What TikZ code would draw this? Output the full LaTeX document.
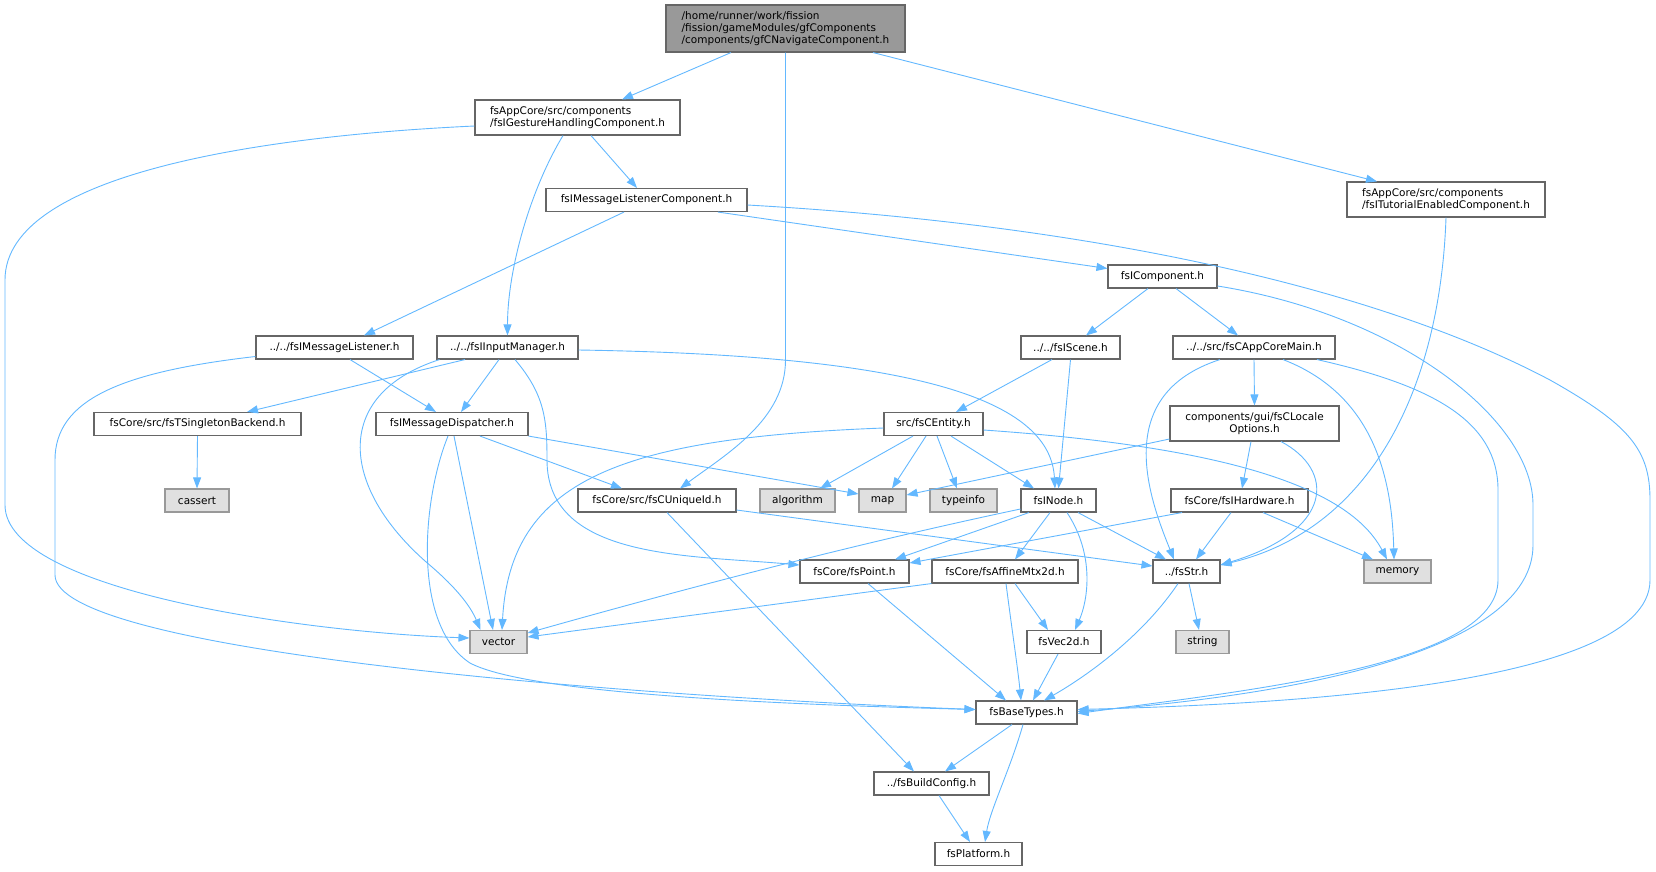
\documentclass[tikz,border=0pt]{standalone}
\usepackage{fontspec}
\setmainfont{DejaVu Sans}
\usetikzlibrary{arrows.meta}
\begin{document}
\begin{tikzpicture}[x=1pt,y=-1pt]
\definecolor{edgeblue}{HTML}{63B8FF}
\definecolor{boxgray}{HTML}{666666}
\definecolor{sysgray}{HTML}{999999}
\definecolor{sysfill}{HTML}{E0E0E0}
\tikzstyle{incbox}=[draw=boxgray,fill=white,line width=1.1pt,inner sep=0pt,minimum height=23pt,font=\fontsize{10.5}{12}\selectfont];
\tikzstyle{sysbox}=[incbox,draw=sysgray,fill=sysfill];
\tikzstyle{incarrow}=[draw=edgeblue,line width=0.9pt,-{Triangle[length=11pt,width=8pt]}];

\useasboundingbox (0,0) rectangle (1656,871);

% boxes, top to bottom
\node[incbox,fill=sysgray,minimum width=239pt,minimum height=47pt,align=left] (root) at (785.5,28.5) {/home/runner/work/fission\\/fission/gameModules/gfComponents\\/components/gfCNavigateComponent.h};
\node[incbox,minimum width=205pt,minimum height=35pt,align=left] (gesture) at (577.5,117.5) {fsAppCore/src/components\\/fsIGestureHandlingComponent.h};
\node[incbox,minimum width=198pt,minimum height=35pt,align=left] (tutorial) at (1446,199.5) {fsAppCore/src/components\\/fsITutorialEnabledComponent.h};
\node[incbox,minimum width=201pt] (msglistcomp) at (646.5,200) {fsIMessageListenerComponent.h};
\node[incbox,minimum width=109pt] (component) at (1162.5,276.5) {fsIComponent.h};

\node[incbox,minimum width=157pt] (msglistener) at (334.5,347.5) {../../fsIMessageListener.h};
\node[incbox,minimum width=141pt] (inputmgr) at (507.5,347.5) {../../fsIInputManager.h};
\node[incbox,minimum width=99pt] (scene) at (1070.5,347.5) {../../fsIScene.h};
\node[incbox,minimum width=162pt] (appcore) at (1254,347.5) {../../src/fsCAppCoreMain.h};

\node[incbox,minimum width=207pt] (singleton) at (197.5,424) {fsCore/src/fsTSingletonBackend.h};
\node[incbox,minimum width=152pt] (dispatcher) at (452,424) {fsIMessageDispatcher.h};
\node[incbox,minimum width=99pt] (entity) at (933.5,424) {src/fsCEntity.h};
\node[incbox,minimum width=169pt,minimum height=35pt,align=center] (locale) at (1254.5,423.5) {components/gui/fsCLocale\\Options.h};

\node[sysbox,minimum width=64pt] (cassert) at (197,500.5) {cassert};
\node[incbox,minimum width=158pt] (uniqueid) at (657,500.5) {fsCore/src/fsCUniqueId.h};
\node[sysbox,minimum width=75pt] (algorithm) at (797.5,500.5) {algorithm};
\node[sysbox,minimum width=47pt] (map) at (882.5,500.5) {map};
\node[sysbox,minimum width=67pt] (typeinfo) at (963.5,500.5) {typeinfo};
\node[incbox,minimum width=75pt] (inode) at (1058.5,500.5) {fsINode.h};
\node[incbox,minimum width=137pt] (hardware) at (1239.5,500.5) {fsCore/fsIHardware.h};

\node[incbox,minimum width=109pt] (point) at (854.5,571.5) {fsCore/fsPoint.h};
\node[incbox,minimum width=146pt] (affine) at (1005,571.5) {fsCore/fsAffineMtx2d.h};
\node[incbox,minimum width=67pt] (str) at (1186.5,571.5) {../fsStr.h};
\node[sysbox,minimum width=67pt] (memory) at (1397.5,571.5) {memory};

\node[sysbox,minimum width=57pt] (vector) at (498.5,642) {vector};
\node[incbox,minimum width=74pt] (vec2d) at (1064,642) {fsVec2d.h};
\node[sysbox,minimum width=53pt] (string) at (1202.5,642) {string};

\node[incbox,minimum width=101pt] (basetypes) at (1026.5,712.5) {fsBaseTypes.h};
\node[incbox,minimum width=115pt] (buildconfig) at (931.5,783.5) {../fsBuildConfig.h};
\node[incbox,minimum width=87pt] (platform) at (978.5,854) {fsPlatform.h};

% includes of the root file
\draw[incarrow] ([xshift=-54.5pt]root.south) -- ([xshift=44.5pt]gesture.north);
\draw[incarrow] (root.south) -- (785.5,360) .. controls (785.5,420) and (725,455) .. ([xshift=23pt]uniqueid.north);
\draw[incarrow] ([xshift=87.5pt]root.south) -- ([xshift=-69pt]tutorial.north);

% gesture component
\draw[incarrow] ([yshift=-8.5pt]gesture.west) .. controls (280,135) and (5,170) .. (5,280) -- (5,505) .. controls (5,590) and (300,632) .. ([yshift=4pt]vector.west);
\draw[incarrow] ([xshift=-14.5pt]gesture.south) .. controls (530,190) and (507.5,270) .. (inputmgr.north);
\draw[incarrow] ([xshift=13.5pt]gesture.south) -- ([xshift=-9.5pt]msglistcomp.north);

% message listener component
\draw[incarrow] ([xshift=-22.5pt]msglistcomp.south) -- ([xshift=29.5pt]msglistener.north);
\draw[incarrow] ([xshift=71.5pt]msglistcomp.south) -- ([yshift=8pt]component.west);
\draw[incarrow] ([yshift=-5pt]msglistcomp.east) .. controls (1100,225) and (1380,290) .. (1550,380) .. controls (1630,425) and (1650,450) .. (1650,500) -- (1650,580) .. controls (1650,690) and (1250,705) .. ([yshift=3pt]basetypes.east);

% tutorial component
\draw[incarrow] (tutorial.south) .. controls (1440,390) and (1370,530) .. ([yshift=6.5pt]str.east);

% component
\draw[incarrow] ([xshift=-14.5pt]component.south) -- ([xshift=15.5pt]scene.north);
\draw[incarrow] ([xshift=13.5pt]component.south) -- ([xshift=-16pt]appcore.north);
\draw[incarrow] ([yshift=-9.5pt]component.east) .. controls (1400,315) and (1533,420) .. (1533,505) -- (1533,545) .. controls (1533,650) and (1300,695) .. ([yshift=1pt]basetypes.east);

% message listener
\draw[incarrow] ([xshift=15.5pt]msglistener.south) -- ([xshift=-16pt]dispatcher.north);
\draw[incarrow] ([yshift=-9pt]msglistener.west) .. controls (120,372) and (55,400) .. (55,460) -- (55,575) .. controls (55,650) and (600,695) .. ([yshift=3pt]basetypes.west);

% input manager
\draw[incarrow] ([xshift=-42.5pt]inputmgr.south) -- ([xshift=49.5pt]singleton.north);
\draw[incarrow] ([xshift=-8.5pt]inputmgr.south) -- ([xshift=9pt]dispatcher.north);
\draw[incarrow] ([xshift=-68pt]inputmgr.south) .. controls (330,395) and (340,490) .. (432,567) .. controls (455,587) and (470,605) .. ([xshift=-18pt]vector.north);
\draw[incarrow] ([xshift=7.5pt]inputmgr.south) .. controls (545,395) and (547,420) .. (547,460) .. controls (547,560) and (690,555) .. ([yshift=6.5pt]point.west);
\draw[incarrow] ([yshift=-2.5pt]inputmgr.east) .. controls (900,355) and (1050,395) .. ([xshift=-3.5pt]inode.north);

\draw[incarrow] (singleton.south) -- (cassert.north);

% dispatcher
\draw[incarrow] ([xshift=28pt]dispatcher.south) -- ([xshift=-35pt]uniqueid.north);
\draw[incarrow] (dispatcher.south east) -- ([yshift=6.5pt]map.west);
\draw[incarrow] ([xshift=2pt]dispatcher.south) -- ([xshift=-5.5pt]vector.north);
\draw[incarrow] ([xshift=-4pt]dispatcher.south) .. controls (422,500) and (412,625) .. (470,663) .. controls (530,695) and (800,705) .. ([yshift=3pt]basetypes.west);

% scene and entity
\draw[incarrow] ([xshift=-18.5pt]scene.south) -- ([xshift=22.5pt]entity.north);
\draw[incarrow] (scene.south) -- (inode.north);
\draw[incarrow] ([yshift=-4pt]entity.west) .. controls (620,438) and (510,480) .. ([xshift=3.5pt]vector.north);
\draw[incarrow] ([xshift=-20.5pt]entity.south) -- ([xshift=22.5pt]algorithm.north);
\draw[incarrow] ([xshift=-7.5pt]entity.south) -- ([xshift=9.5pt]map.north);
\draw[incarrow] ([xshift=3.5pt]entity.south) -- ([xshift=-6.5pt]typeinfo.north);
\draw[incarrow] ([xshift=17.5pt]entity.south) -- ([xshift=-24.5pt]inode.north);
\draw[incarrow] ([yshift=-6pt]entity.east) .. controls (1200,445) and (1345,480) .. ([xshift=-10.5pt]memory.north);

% app core main
\draw[incarrow] (appcore.south) -- (locale.north);
\draw[incarrow] ([xshift=-34pt]appcore.south) .. controls (1110,395) and (1150,500) .. ([xshift=-12.5pt]str.north);
\draw[incarrow] ([xshift=29pt]appcore.south) .. controls (1375,395) and (1392,480) .. ([xshift=-3.5pt]memory.north);
\draw[incarrow] ([xshift=63pt]appcore.south) .. controls (1430,385) and (1498,420) .. (1498,490) -- (1498,580) .. controls (1498,665) and (1250,690) .. ([yshift=-1pt]basetypes.east);

% locale options and hardware
\draw[incarrow] ([yshift=-15.5pt]locale.west) -- ([yshift=5.5pt]map.east);
\draw[incarrow] ([xshift=-3.5pt]locale.south) -- ([xshift=2.5pt]hardware.north);
\draw[incarrow] ([xshift=26.5pt]locale.south) .. controls (1335,470) and (1335,530) .. ([yshift=6.5pt]str.east);
\draw[incarrow] ([xshift=-57.5pt]hardware.south) -- ([yshift=8.5pt]point.east);
\draw[incarrow] ([xshift=-8.5pt]hardware.south) -- ([xshift=9.5pt]str.north);
\draw[incarrow] ([xshift=23.5pt]hardware.south) -- ([xshift=-24.5pt]memory.north);

% unique id
\draw[incarrow] ([yshift=-9.5pt]uniqueid.east) -- ([yshift=5.5pt]str.west);
\draw[incarrow] ([xshift=10pt]uniqueid.south) -- ([xshift=-17.5pt]buildconfig.north);

% node
\draw[incarrow] ([yshift=-8.5pt]inode.west) .. controls (850,545) and (680,590) .. ([yshift=9pt]vector.east);
\draw[incarrow] ([xshift=-29.5pt]inode.south) -- ([xshift=40.5pt]point.north);
\draw[incarrow] ([xshift=-8.5pt]inode.south) -- ([xshift=10pt]affine.north);
\draw[incarrow] ([xshift=8.5pt]inode.south) .. controls (1095,555) and (1088,600) .. ([xshift=11pt]vec2d.north);
\draw[incarrow] ([xshift=19.5pt]inode.south) -- ([xshift=-20.5pt]str.north);

% point, matrix, vec2d, str
\draw[incarrow] ([xshift=13.5pt]point.south) -- ([xshift=-20.5pt]basetypes.north);
\draw[incarrow] (affine.south west) -- ([yshift=5pt]vector.east);
\draw[incarrow] ([xshift=10pt]affine.south) -- ([xshift=-16pt]vec2d.north);
\draw[incarrow] ([xshift=1pt]affine.south) .. controls (1012,630) and (1018,670) .. ([xshift=-5.5pt]basetypes.north);
\draw[incarrow] ([xshift=-6pt]vec2d.south) -- ([xshift=6.5pt]basetypes.north);
\draw[incarrow] ([xshift=-8.5pt]str.south) .. controls (1140,640) and (1080,680) .. ([xshift=17.5pt]basetypes.north);
\draw[incarrow] ([xshift=2.5pt]str.south) -- ([xshift=-3.5pt]string.north);

% base types
\draw[incarrow] ([xshift=-14.5pt]basetypes.south) -- ([xshift=13.5pt]buildconfig.north);
\draw[incarrow] ([xshift=-3.5pt]basetypes.south) .. controls (1010,770) and (990,810) .. ([xshift=6.5pt]platform.north);
\draw[incarrow] ([xshift=7.5pt]buildconfig.south) -- ([xshift=-8.5pt]platform.north);

\end{tikzpicture}
\end{document}
